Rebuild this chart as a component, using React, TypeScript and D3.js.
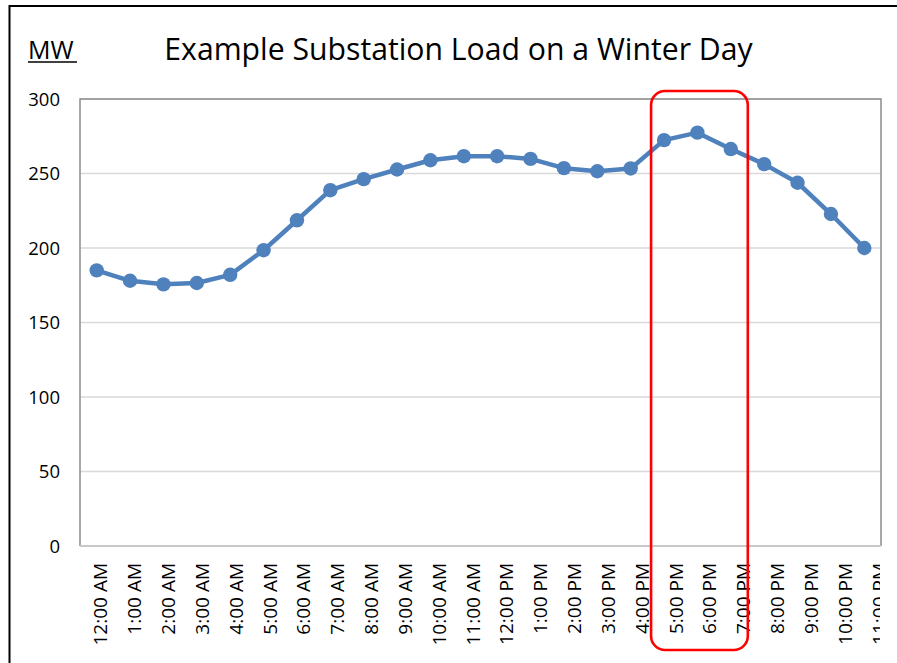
import React from "react";
import * as d3 from "d3";

const categories = [
  "12:00 AM", "1:00 AM", "2:00 AM", "3:00 AM", "4:00 AM", "5:00 AM",
  "6:00 AM", "7:00 AM", "8:00 AM", "9:00 AM", "10:00 AM", "11:00 AM",
  "12:00 PM", "1:00 PM", "2:00 PM", "3:00 PM", "4:00 PM", "5:00 PM",
  "6:00 PM", "7:00 PM", "8:00 PM", "9:00 PM", "10:00 PM", "11:00 PM",
];
const loadMW = [
  185, 178, 175.6, 176.5, 182, 198.5, 218.6, 238.8, 246.2, 252.7, 258.9, 261.6,
  261.6, 259.8, 253.6, 251.5, 253.4, 272.4, 277.4, 266.4, 256.3, 243.8, 222.8, 200,
];
const yTicks = [0, 50, 100, 150, 200, 250, 300];
const highlight = ["5:00 PM", "7:00 PM"];
const title = "Example Substation Load on a Winter Day";
const unitLabel = "MW";

const W = 897;
const H = 663;
const plot = { left: 80, right: 881, top: 99, bottom: 546 };
const FONT = "'Open Sans', 'Liberation Sans', sans-serif";

export default function App() {
  const x = d3.scaleBand<string>().domain(categories).range([plot.left, plot.right]).padding(0);
  const y = d3.scaleLinear().domain([0, 300]).range([plot.bottom, plot.top]);
  const cx = (c: string) => (x(c) as number) + x.bandwidth() / 2;
  // tick labels in the reference are laid out on a slightly wider pitch than the points
  const labelX = d3.scaleLinear().domain([0, categories.length - 1]).range([100.5, 100.5 + 23 * 33.84]);
  const pts: [number, number][] = categories.map((c, i) => [cx(c), y(loadMW[i])]);
  const line = d3.line<[number, number]>().x((d) => d[0]).y((d) => d[1]);

  const hx0 = cx(highlight[0]) - 13;
  const hx1 = cx(highlight[1]) + 17;

  return (
    <svg width={W} height={H} style={{ position: "absolute", left: 0, top: 0, background: "#fff" }}>
      <defs>
        <clipPath id="lblclip">
          <rect x={0} y={0} width={880} height={H} />
        </clipPath>
      </defs>
      <rect x={0} y={0} width={W} height={H} fill="#fff" />
      {/* outer chart border */}
      <rect x={9.5} y={6} width={W + 20} height={H + 20} fill="none" stroke="#000" strokeWidth={2} />

      {/* title & unit */}
      <text x={458.5} y={60} textAnchor="middle" fontFamily={FONT} fontSize={30.2} fill="#000">
        {title}
      </text>
      <text x={28} y={59} fontFamily={FONT} fontSize={25} fill="#000">
        {unitLabel}
      </text>
      <line x1={28} x2={77} y1={62} y2={62} stroke="#000" strokeWidth={1.5} />

      {/* gridlines */}
      {yTicks.map((t) => (
        <line key={"g" + t} x1={plot.left} x2={plot.right} y1={y(t)} y2={y(t)} stroke="#d9d9d9" strokeWidth={1.5} />
      ))}
      {/* plot frame */}
      <path
        d={`M${plot.left},${plot.bottom} V${plot.top} H${plot.right} V${plot.bottom}`}
        fill="none"
        stroke="#8c8c8c"
        strokeWidth={1.5}
      />
      <line x1={plot.left} x2={plot.right} y1={plot.bottom} y2={plot.bottom} stroke="#c8c8c8" strokeWidth={2} />

      {/* y tick labels */}
      {yTicks.map((t) => (
        <text key={"yt" + t} x={60} y={y(t)} dy="0.36em" textAnchor="end" fontFamily={FONT} fontSize={18.5} fill="#000">
          {t}
        </text>
      ))}

      {/* x tick labels */}
      <g clipPath="url(#lblclip)">
        {categories.map((c, i) => (
          <text
            key={"xt" + c}
            transform={`translate(${labelX(i)},563) rotate(-90)`}
            dy="0.36em"
            textAnchor="end"
            fontFamily={FONT}
            fontSize={19}
            fill="#000"
          >
            {c}
          </text>
        ))}
      </g>

      {/* series */}
      <path d={line(pts) || ""} fill="none" stroke="#4f81bd" strokeWidth={4.5} strokeLinejoin="round" />
      {pts.map((p, i) => (
        <circle key={"p" + i} cx={p[0]} cy={p[1]} r={7.2} fill="#4f81bd" />
      ))}

      {/* highlight box */}
      <rect
        x={hx0}
        y={91}
        width={hx1 - hx0}
        height={559}
        rx={14}
        ry={14}
        fill="none"
        stroke="#ff0000"
        strokeWidth={2.6}
      />
    </svg>
  );
}
